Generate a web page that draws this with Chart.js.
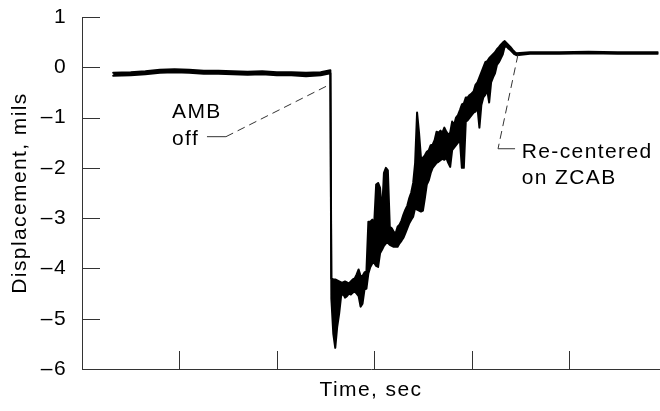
<!DOCTYPE html>
<html>
<head>
<meta charset="utf-8">
<title>Displacement vs time</title>
<script src="https://cdn.jsdelivr.net/npm/chart.js@4.4.1/dist/chart.umd.min.js"></script>
<style>
  html, body { margin: 0; padding: 0; background: #fff; }
  #wrap { width: 660px; height: 411px; position: relative; }
</style>
</head>
<body>
<div id="wrap"><canvas id="chart"></canvas></div>
<script>
const timeSec = [
  0.32, 0.50, 0.65, 0.80, 0.95, 1.10, 1.25, 1.40, 1.55, 1.70, 1.85, 2.00, 2.15, 2.30, 2.45, 2.55,
  2.56, 2.58, 2.60, 2.62, 2.64, 2.66, 2.68, 2.70, 2.72, 2.74,
  2.76, 2.78, 2.80, 2.82, 2.84, 2.86, 2.88, 2.90, 2.92, 2.94,
  2.96, 2.98, 3.00, 3.02, 3.04, 3.06, 3.08, 3.10, 3.12, 3.14,
  3.16, 3.18, 3.20, 3.22, 3.24, 3.26, 3.28, 3.30, 3.32, 3.34,
  3.36, 3.38, 3.40, 3.42, 3.44, 3.46, 3.48, 3.50, 3.52, 3.54,
  3.56, 3.58, 3.60, 3.62, 3.64, 3.66, 3.68, 3.70, 3.72, 3.74,
  3.76, 3.78, 3.80, 3.82, 3.84, 3.86, 3.88, 3.90, 3.92, 3.94,
  3.96, 3.98, 4.00, 4.02, 4.04, 4.06, 4.08, 4.10, 4.12, 4.14,
  4.16, 4.18, 4.20, 4.22, 4.24, 4.26, 4.28, 4.30, 4.32, 4.34,
  4.36, 4.38, 4.40, 4.42, 4.44, 4.46,
  4.60, 4.90, 5.20, 5.50, 5.91
];
const traceMaxMils = [
  -0.11, -0.10, -0.08, -0.05, -0.04, -0.05, -0.07, -0.07, -0.08, -0.09, -0.08, -0.10, -0.10, -0.11, -0.10, -0.06,
  -4.20, -4.22, -4.22, -4.24, -4.26, -4.28, -4.28, -4.26, -4.28, -4.30,
  -4.26, -4.22, -4.20, -4.12, -4.02, -4.15, -4.15, -4.08, -4.06, -3.07,
  -3.07, -3.03, -3.10, -2.33, -2.30, -2.40, -2.90, -2.10, -2.00, -2.05,
  -3.17, -3.20, -3.27, -3.30, -3.17, -3.13, -3.05, -2.93, -2.83, -2.75,
  -2.60, -2.49, -2.30, -1.90, -0.90, -1.30, -1.80, -1.80, -1.75, -1.68,
  -1.65, -1.55, -1.54, -1.45, -1.28, -1.30, -1.26, -1.30, -1.20, -1.28,
  -1.34, -1.30, -1.08, -1.15, -1.00, -0.95, -0.85, -0.74, -0.72, -0.60,
  -0.60, -0.55, -0.52, -0.48, -0.35, -0.30, -0.20, -0.10, 0.00, 0.10,
  0.12, 0.18, 0.22, 0.26, 0.30, 0.36, 0.40, 0.45, 0.49, 0.52,
  0.48, 0.44, 0.40, 0.35, 0.31, 0.28,
  0.30, 0.30, 0.31, 0.30, 0.30
];
const traceMinMils = [
  -0.17, -0.16, -0.14, -0.11, -0.10, -0.11, -0.13, -0.13, -0.14, -0.15, -0.14, -0.16, -0.16, -0.18, -0.16, -0.12,
  -4.60, -5.30, -5.58, -5.16, -4.90, -4.55, -4.50, -4.58, -4.55, -4.50,
  -4.52, -4.48, -4.46, -4.50, -4.55, -4.76, -4.70, -4.42, -4.40, -4.10,
  -3.97, -3.90, -3.89, -3.95, -3.97, -3.70, -3.63, -3.55, -3.50, -3.49,
  -3.53, -3.55, -3.57, -3.57, -3.57, -3.50, -3.45, -3.39, -3.30, -3.20,
  -3.10, -3.03, -2.97, -2.80, -2.83, -2.85, -2.87, -2.85, -2.60, -2.33,
  -2.25, -2.10, -2.00, -1.95, -1.90, -1.88, -1.85, -1.82, -1.84, -1.80,
  -1.90, -1.98, -1.65, -1.60, -1.55, -1.50, -1.45, -2.00, -2.00, -1.08,
  -1.05, -1.00, -0.95, -0.90, -0.88, -0.80, -1.20, -0.75, -0.60, -0.55,
  -0.45, -0.70, -0.30, -0.20, -0.12, 0.05, 0.10, 0.18, 0.26, 0.42,
  0.41, 0.37, 0.34, 0.30, 0.26, 0.24,
  0.27, 0.27, 0.28, 0.27, 0.27
];
const yTickValues = [1, 0, -1, -2, -3, -4, -5, -6];
const xTickValues = [1, 2, 3, 4, 5];

// callouts: text lines and leaders, in data units
const callouts = [
  { lines: ['AMB', 'off'], at: [0.924, -1.0], lineStep: -0.54,
    leader: [[1.283, -1.38], [1.478, -1.38], [2.536, -0.35]], solidFirst: true },
  { lines: ['Re-centered', 'on ZCAB'], at: [4.514, -1.80], lineStep: -0.53,
    leader: [[4.476, 0.25], [4.271, -1.62], [4.446, -1.62]], solidFirst: false }
];

const FAMILY = '"Liberation Sans", Arial, Helvetica, sans-serif';
const INK = '#000';
const AXIS = '#333';

const paperStyle = {
  id: 'paperStyle',
  beforeDraw(chart) {
    chart.ctx.letterSpacing = '1.4px';
  },
  beforeDatasetsDraw(chart) {
    const { ctx, chartArea: a, scales: { x, y } } = chart;
    ctx.save();
    ctx.strokeStyle = AXIS;
    ctx.lineWidth = 1;
    ctx.beginPath();
    // inward tick marks
    yTickValues.forEach((v) => {
      if (v === y.min) return;
      const py = Math.round(y.getPixelForValue(v)) + 0.5;
      ctx.moveTo(a.left, py);
      ctx.lineTo(a.left + 18, py);
    });
    xTickValues.forEach((v) => {
      const px = Math.round(x.getPixelForValue(v)) + 0.5;
      ctx.moveTo(px, a.bottom);
      ctx.lineTo(px, a.bottom - 18);
    });
    ctx.stroke();
    ctx.restore();
  },
  afterDatasetsDraw(chart) {
    const { ctx, scales: { x, y } } = chart;
    ctx.save();
    ctx.letterSpacing = '1.4px';
    ctx.font = '21px ' + FAMILY;
    ctx.fillStyle = INK;
    ctx.textBaseline = 'alphabetic';
    ctx.textAlign = 'left';
    callouts.forEach((c) => {
      c.lines.forEach((txt, i) => {
        ctx.fillText(txt, x.getPixelForValue(c.at[0]), y.getPixelForValue(c.at[1] + i * c.lineStep));
      });
      const pts = c.leader.map(([t, v]) => [x.getPixelForValue(t), y.getPixelForValue(v)]);
      ctx.strokeStyle = AXIS;
      ctx.lineWidth = 1;
      for (let i = 0; i < pts.length - 1; i++) {
        const solid = c.solidFirst ? i === 0 : i === pts.length - 2;
        ctx.setLineDash(solid ? [] : [8, 5]);
        ctx.beginPath();
        ctx.moveTo(pts[i][0], pts[i][1]);
        ctx.lineTo(pts[i + 1][0], pts[i + 1][1]);
        ctx.stroke();
      }
    });
    ctx.restore();
  }
};

const traceLine = {
  borderColor: '#000',
  borderWidth: 2,
  borderJoinStyle: 'round',
  borderCapStyle: 'round',
  pointRadius: 0,
  tension: 0
};

new Chart(document.getElementById('chart'), {
  type: 'line',
  data: {
    datasets: [
      { ...traceLine, data: timeSec.map((t, i) => ({ x: t, y: traceMaxMils[i] })), fill: false },
      { ...traceLine, data: timeSec.map((t, i) => ({ x: t, y: traceMinMils[i] })), fill: '-1', backgroundColor: '#000' }
    ]
  },
  options: {
    responsive: true,
    maintainAspectRatio: false,
    animation: false,
    layout: { padding: { top: 17, left: 0, right: 0, bottom: 0 } },
    plugins: { legend: { display: false }, tooltip: { enabled: false } },
    scales: {
      x: {
        type: 'linear',
        min: 0,
        max: 5.934,
        grid: { display: true, drawOnChartArea: false, drawTicks: false },
        border: { display: true, color: AXIS, width: 1 },
        ticks: { display: false },
        title: { display: true, text: 'Time, sec', color: INK, font: { family: FAMILY, size: 21 }, padding: { top: 0, bottom: 8 } },
        afterFit(s) { s.height = 42; s.paddingLeft = 0; s.paddingRight = 0; }
      },
      y: {
        type: 'linear',
        min: -6,
        max: 1,
        afterBuildTicks(s) { s.ticks = yTickValues.map((v) => ({ value: v })); },
        grid: { display: true, drawOnChartArea: false, drawTicks: false },
        border: { display: true, color: AXIS, width: 1 },
        ticks: {
          padding: 15,
          color: INK,
          font: { family: FAMILY, size: 21 },
          callback: (v) => String(v).replace('-', '\u2013')
        },
        title: { display: true, text: 'Displacement, mils', color: INK, font: { family: FAMILY, size: 21 }, padding: { top: 8, bottom: 0 } },
        afterFit(s) { s.width = 82; s.paddingTop = 0; s.paddingBottom = 0; }
      }
    }
  },
  plugins: [paperStyle]
});
</script>
</body>
</html>
